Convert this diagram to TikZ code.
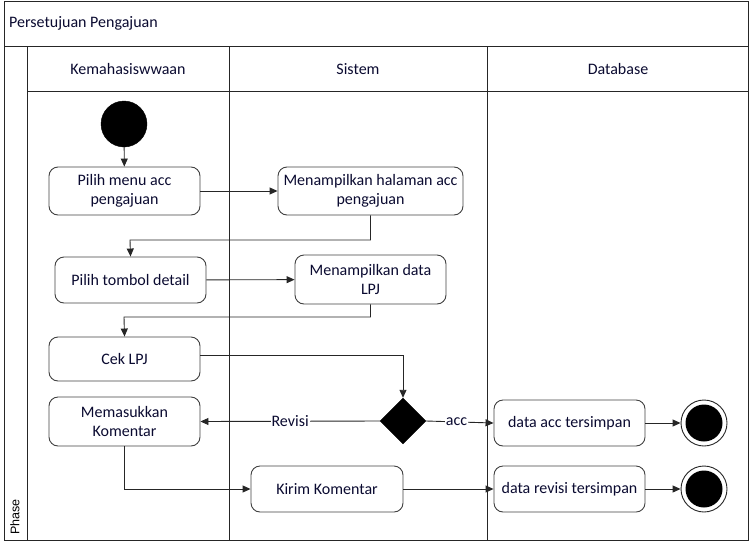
\documentclass[tikz,border=0pt]{standalone}
\usepackage{fontspec}
\setmainfont{Carlito}
\newfontfamily\phasefont{Liberation Sans}
\usetikzlibrary{arrows.meta,shapes.geometric}
\definecolor{txt}{HTML}{0A0A30}
\definecolor{boxline}{HTML}{404040}
\tikzset{
  lane/.style={draw=black!85,line width=1pt},
  actbox/.style={draw=boxline,line width=0.9pt,rounded corners=9pt,text=txt,align=center,font=\fontsize{16}{19}\selectfont},
  flow/.style={draw=black!85,line width=0.9pt,-{Triangle[length=8pt,width=7pt]}},
  lbl/.style={text=txt,font=\fontsize{16}{19}\selectfont,inner sep=1pt},
  startnode/.style={circle,fill=black,draw=black,minimum size=46pt,inner sep=0pt},
  endring/.style={circle,draw=black!85,line width=0.9pt,fill=white,minimum size=46pt,inner sep=0pt},
  enddot/.style={circle,fill=black,minimum size=37pt,inner sep=0pt},
  decide/.style={diamond,fill=black,draw=black,minimum width=46pt,minimum height=46pt,inner sep=0pt}
}
\begin{document}
\begin{tikzpicture}[x=1pt,y=-1pt]
\useasboundingbox (0,0) rectangle (751,546);
% frame
\draw[lane] (4,1) rectangle (748,540);
\draw[lane] (4,46) -- (748,46);
\draw[lane] (27,46) -- (27,540);
\draw[lane] (27,91) -- (748,91);
\draw[lane] (229,46) -- (229,540);
\draw[lane] (487,46) -- (487,540);
\node[lbl,anchor=west] (title) at (8,23) {Persetujuan Pengajuan};
\node[lbl] (h1) at (128,69) {Kemahasiswwaan};
\node[lbl] (h2) at (358,69) {Sistem};
\node[lbl] (h3) at (618,69) {Database};
\node[rotate=90,font=\phasefont\fontsize{12.5}{14}\selectfont,text=black] (phase) at (15,517) {Phase};
% nodes
\node[startnode] (start) at (124,124) {};
\node[actbox,minimum width=151pt,minimum height=48pt] (n1) at (124.5,191) {Pilih menu acc\\pengajuan};
\node[actbox,minimum width=185pt,minimum height=48pt] (n2) at (370.5,191) {Menampilkan halaman acc\\pengajuan};
\node[actbox,minimum width=151pt,minimum height=46pt] (n3) at (130.5,280) {Pilih tombol detail};
\node[actbox,minimum width=151pt,minimum height=49pt] (n4) at (370.5,279.5) {Menampilkan data\\LPJ};
\node[actbox,minimum width=151pt,minimum height=44pt] (n5) at (124.5,359) {Cek LPJ};
\node[decide] (d) at (403,421) {};
\node[actbox,minimum width=151pt,minimum height=49pt] (n6) at (124.5,421.5) {Memasukkan\\Komentar};
\node[actbox,minimum width=151pt,minimum height=46pt] (n7) at (569.5,423) {data acc tersimpan};
\node[endring] (e1) at (704,423) {};
\node[enddot] (e1d) at (704,423) {};
\node[actbox,minimum width=152pt,minimum height=46pt] (n8) at (327,489) {Kirim Komentar};
\node[actbox,minimum width=151pt,minimum height=46pt] (n9) at (569.5,489) {data revisi tersimpan};
\node[endring] (e2) at (704,489) {};
\node[enddot] (e2d) at (704,489) {};
% connectors
\draw[flow] (start) -- (n1);
\draw[flow] (n1) -- (n2);
\draw[flow] (n2.south) |- (130,240) -- (n3.north);
\draw[flow] (n3) -- (n4);
\draw[flow] (n4.south) |- (124,317) -- (n5.north);
\draw[flow] (n5.east |- 0,355) -| (d.north);
\draw[flow] (d.west) -- node[lbl,fill=white] (rev) {Revisi} (n6.east);
\draw[flow] (d.east) -- node[lbl,fill=white,pos=0.45] (acc) {acc} (n7.west);
\draw[flow] (n7) -- (e1);
\draw[flow] (n6.south) |- (n8.west);
\draw[flow] (n8) -- (n9);
\draw[flow] (n9) -- (e2);
\end{tikzpicture}
\end{document}
